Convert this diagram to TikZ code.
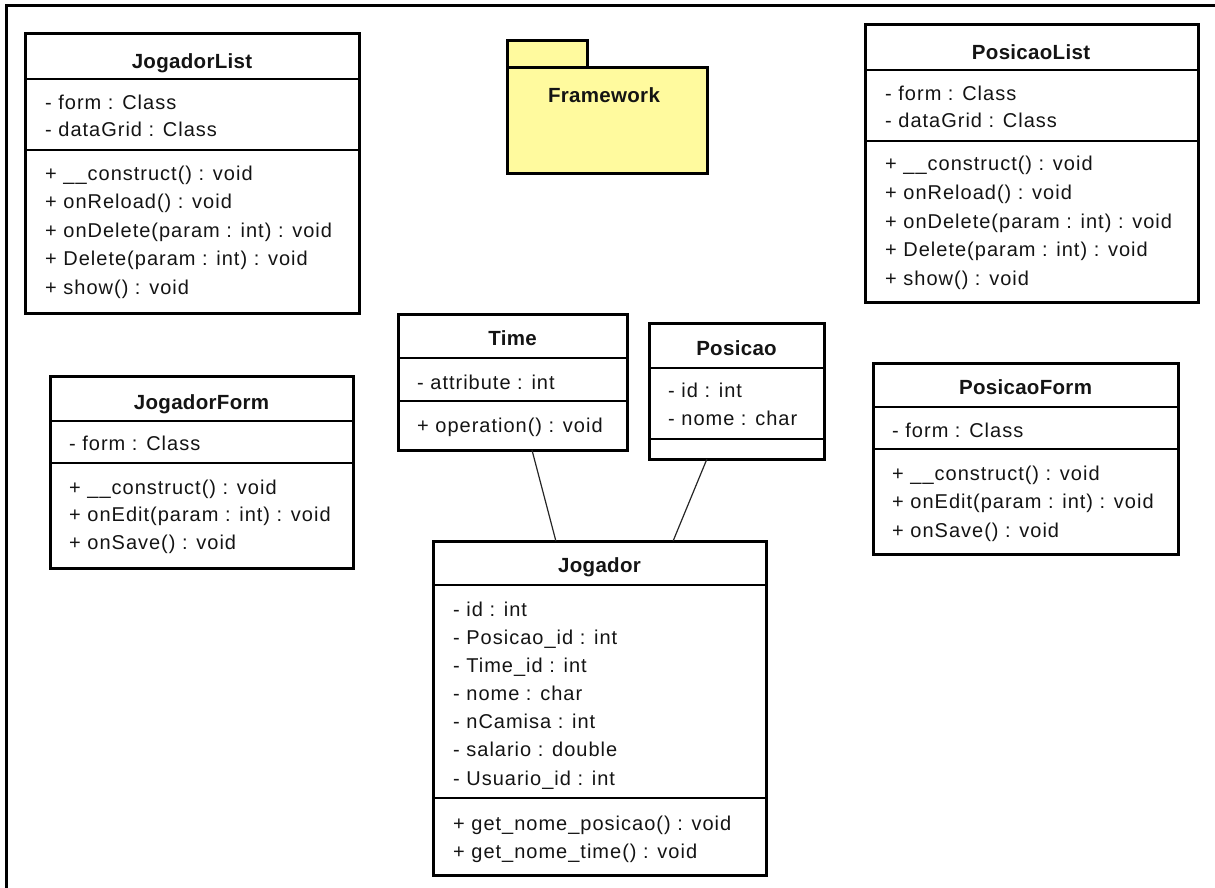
\documentclass[tikz,border=0pt]{standalone}
\usepackage{fontspec}
\setmainfont{Liberation Sans}[LetterSpace=5]
\newfontfamily\headfont{Liberation Sans}[LetterSpace=1.5]
\usetikzlibrary{calc}
\definecolor{pkgyellow}{RGB}{255,250,158}
\definecolor{ink}{RGB}{20,20,20}

% class frame: name, left, top, width, height
\newcommand{\umlframe}[5]{%
  \node[classbox, minimum width=#4pt, minimum height=#5pt] (#1) at (#2,#3) {};}

\begin{document}
\begin{tikzpicture}[x=1pt,y=-1pt,
  classbox/.style={draw=black, line width=3pt, fill=white, inner sep=0pt, outer sep=0pt, anchor=north west},
  sepline/.style={draw=black, line width=1.2pt},
  member/.style={anchor=west, inner sep=0pt, text height=14pt, text depth=0pt,
    text=ink, font=\fontsize{20}{22}\selectfont},
  ctitle/.style={inner sep=0pt, text height=15pt, text depth=0pt,
    text=ink, font=\headfont\bfseries\fontsize{20.5}{22}\selectfont},
  assoc/.style={draw=black!85, line width=1.2pt},
  pkg/.style={draw=black, line width=3pt, fill=pkgyellow, inner sep=0pt, outer sep=0pt, anchor=north west}]
\useasboundingbox (0,0) rectangle (1215,888);

% window edge
\draw[line width=3pt] (6,888) -- (6,6) -- (1215,6);

% ---------------- JogadorList
\umlframe{jl}{25}{34}{334}{279}
\node[ctitle] (jl-t) at (192,61) {JogadorList};
\draw[sepline] (25,79) -- (359,79);
\draw[sepline] (25,150) -- (359,150);
\foreach \t [count=\i from 0] in {- form : Class, - dataGrid : Class}
  \node[member] (jl-a\i) at (45,{103+\i*27}) {\t};
\foreach \t [count=\i from 0] in {+ \_\_construct() : void, + onReload() : void,
    + onDelete(param : int) : void, + Delete(param : int) : void, + show() : void}
  \node[member] (jl-m\i) at (45,{173+\i*28.5}) {\t};

% ---------------- Framework package
\node[pkg, minimum width=80pt, minimum height=27pt] (fw-tab) at (507,41) {};
\node[pkg, minimum width=200pt, minimum height=105pt] (fw) at (507,68) {};
\node[ctitle] (fw-t) at (604,95) {Framework};

% ---------------- PosicaoList
\umlframe{pl}{865}{25}{333}{277}
\node[ctitle] (pl-t) at (1031,52) {PosicaoList};
\draw[sepline] (865,70) -- (1198,70);
\draw[sepline] (865,141) -- (1198,141);
\foreach \t [count=\i from 0] in {- form : Class, - dataGrid : Class}
  \node[member] (pl-a\i) at (885,{94+\i*27}) {\t};
\foreach \t [count=\i from 0] in {+ \_\_construct() : void, + onReload() : void,
    + onDelete(param : int) : void, + Delete(param : int) : void, + show() : void}
  \node[member] (pl-m\i) at (885,{164+\i*28.5}) {\t};

% ---------------- JogadorForm
\umlframe{jf}{50}{376}{303}{192}
\node[ctitle] (jf-t) at (201.5,402) {JogadorForm};
\draw[sepline] (50,421) -- (353,421);
\draw[sepline] (50,463) -- (353,463);
\node[member] (jf-a0) at (69,443) {- form : Class};
\foreach \t [count=\i from 0] in {+ \_\_construct() : void, + onEdit(param : int) : void, + onSave() : void}
  \node[member] (jf-m\i) at (69,{487+\i*27.5}) {\t};

% ---------------- PosicaoForm
\umlframe{pf}{873}{363}{305}{191}
\node[ctitle] (pf-t) at (1025.5,387) {PosicaoForm};
\draw[sepline] (873,407) -- (1178,407);
\draw[sepline] (873,449) -- (1178,449);
\node[member] (pf-a0) at (892,430) {- form : Class};
\foreach \t [count=\i from 0] in {+ \_\_construct() : void, + onEdit(param : int) : void, + onSave() : void}
  \node[member] (pf-m\i) at (892,{473+\i*28.5}) {\t};

% ---------------- Time
\umlframe{tm}{398}{314}{229}{136}
\node[ctitle] (tm-t) at (512.5,338) {Time};
\draw[sepline] (398,358) -- (627,358);
\draw[sepline] (398,401) -- (627,401);
\node[member] (tm-a0) at (417,382) {- attribute : int};
\node[member] (tm-m0) at (417,425) {+ operation() : void};

% ---------------- Posicao
\umlframe{ps}{649}{323}{175}{136}
\node[ctitle] (ps-t) at (736.5,348) {Posicao};
\draw[sepline] (649,368) -- (824,368);
\draw[sepline] (649,439) -- (824,439);
\foreach \t [count=\i from 0] in {- id : int, - nome : char}
  \node[member] (ps-a\i) at (668,{390+\i*28}) {\t};

% ---------------- Jogador
\umlframe{jg}{433}{541}{333}{334}
\node[ctitle] (jg-t) at (599.5,565) {Jogador};
\draw[sepline] (433,585) -- (766,585);
\draw[sepline] (433,798) -- (766,798);
\foreach \t [count=\i from 0] in {- id : int, - Posicao\_id : int, - Time\_id : int,
    - nome : char, - nCamisa : int, - salario : double, - Usuario\_id : int}
  \node[member] (jg-a\i) at (453,{609+\i*28.17}) {\t};
\foreach \t [count=\i from 0] in {+ get\_nome\_posicao() : void, + get\_nome\_time() : void}
  \node[member] (jg-m\i) at (453,{823+\i*28}) {\t};

% ---------------- associations
\draw[assoc] ($(tm.south west)!0.585!(tm.south east)$) -- ($(jg.north west)!0.369!(jg.north east)$);
\draw[assoc] ($(ps.south west)!0.331!(ps.south east)$) -- ($(jg.north west)!0.721!(jg.north east)$);
\end{tikzpicture}
\end{document}
